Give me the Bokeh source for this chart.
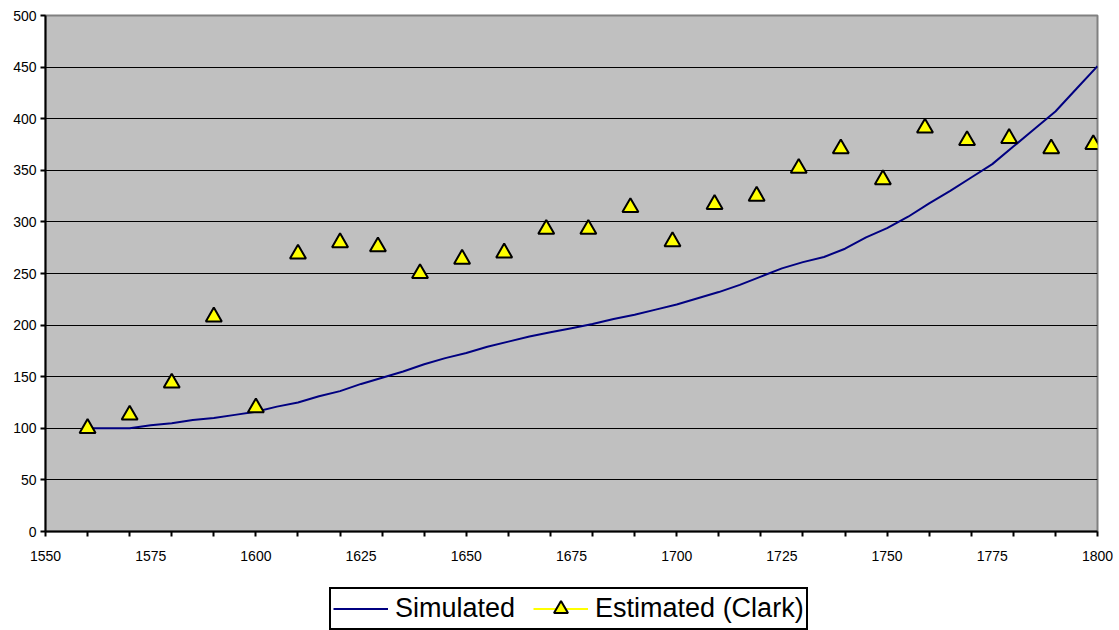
from bokeh.plotting import figure
from bokeh.models import FixedTicker, Legend, LegendItem, SingleIntervalTicker, Range1d
from bokeh.layouts import column
from bokeh.embed import file_html
from bokeh.resources import INLINE

# Simulated series
sim_years = [1560, 1565, 1570, 1575, 1580, 1585, 1590, 1595, 1600, 1605, 1610, 1615,
             1620, 1625, 1630, 1635, 1640, 1645, 1650, 1655, 1660, 1665, 1670, 1675,
             1680, 1685, 1690, 1695, 1700, 1705, 1710, 1715, 1720, 1725, 1730, 1735,
             1740, 1745, 1750, 1755, 1760, 1765, 1770, 1775, 1780, 1785, 1790, 1795, 1800]
sim_values = [100, 100, 100, 103, 105, 108, 110, 113, 116, 121, 125, 131,
              136, 143, 149, 155, 162, 168, 173, 179, 184, 189, 193, 197,
              201, 206, 210, 215, 220, 226, 232, 239, 247, 255, 261, 266,
              274, 285, 294, 305, 318, 330, 343, 356, 373, 390, 407, 429, 451]

# Estimated (Clark)
est_years = [1560, 1570, 1580, 1590, 1600, 1610, 1620, 1629, 1639, 1649, 1659, 1669, 1679,
             1689, 1699, 1709, 1719, 1729, 1739, 1749, 1759, 1769, 1779, 1789, 1799]
est_values = [100, 113, 144, 208, 120, 269, 280, 276, 250, 264, 270, 293, 293,
              314, 281, 317, 325, 352, 371, 341, 391, 379, 381, 371, 375]

x_labels = [1550, 1575, 1600, 1625, 1650, 1675, 1700, 1725, 1750, 1775, 1800]
x_minor = list(range(1550, 1801, 10))

SIM_COLOR = "#000080"
EST_FILL = "#FFFF00"

p = figure(width=1119, height=575, output_backend="svg", toolbar_location=None,
           x_range=(1550, 1800), y_range=(0, 500),
           min_border_left=45, min_border_right=22, min_border_top=15, min_border_bottom=44)
p.border_fill_color = "white"
p.background_fill_color = "#C0C0C0"
p.outline_line_color = "#808080"
p.outline_line_width = 2

p.xgrid.grid_line_color = None
p.ygrid.grid_line_color = "black"
p.ygrid.grid_line_width = 1
p.ygrid.ticker = SingleIntervalTicker(interval=50)

p.yaxis.ticker = SingleIntervalTicker(interval=50)
p.xaxis.ticker = FixedTicker(ticks=x_labels, minor_ticks=x_minor)

for ax in (p.xaxis, p.yaxis):
    ax.axis_line_color = "black"
    ax.axis_line_width = 2
    ax.major_label_text_font = "Liberation Sans"
    ax.major_label_text_font_size = "14px"
    ax.major_label_text_color = "black"

p.yaxis.major_tick_out = 5
p.yaxis.major_tick_in = 0
p.yaxis.major_tick_line_color = "black"
p.yaxis.major_tick_line_width = 2
p.yaxis.minor_tick_line_color = None
p.yaxis.major_label_standoff = 4

p.xaxis.major_tick_out = 0
p.xaxis.major_tick_in = 0
p.xaxis.minor_tick_out = 5
p.xaxis.minor_tick_in = 0
p.xaxis.minor_tick_line_color = "black"
p.xaxis.minor_tick_line_width = 2
p.xaxis.major_label_standoff = 14

p.line(sim_years, sim_values, line_color=SIM_COLOR, line_width=2)
p.scatter(est_years, est_values, marker="triangle", size=16,
          fill_color=EST_FILL, line_color="black", line_width=2)

# Legend strip below the chart (proxy glyphs placed outside the visible range)
q = figure(width=1119, height=55, output_backend="svg", toolbar_location=None,
           x_range=Range1d(0, 1), y_range=Range1d(0, 1),
           min_border_left=0, min_border_right=0, min_border_top=0, min_border_bottom=0)
q.axis.visible = False
q.grid.visible = False
q.outline_line_color = None
q.background_fill_color = "white"
q.border_fill_color = "white"

proxy_x = [-5, -4]
proxy_y = [-5, -4]
l_sim = q.line(x=proxy_x, y=proxy_y, line_color=SIM_COLOR, line_width=2)
l_est_line = q.line(x=proxy_x, y=proxy_y, line_color=EST_FILL, line_width=2)
l_est_pt = q.scatter(x=proxy_x, y=proxy_y, marker="triangle", size=14,
                     fill_color=EST_FILL, line_color="black", line_width=2)

legend = Legend(items=[LegendItem(label="Simulated", renderers=[l_sim]),
                       LegendItem(label="Estimated (Clark)", renderers=[l_est_line, l_est_pt])],
                orientation="horizontal", location=(284, 0),
                label_text_font="Liberation Sans", label_text_font_size="27px",
                label_text_color="black", label_height=26,
                glyph_width=55, glyph_height=35, label_standoff=7, spacing=18,
                padding=2, margin=0,
                border_line_color="black", border_line_width=2, border_line_alpha=1,
                background_fill_color="white", background_fill_alpha=1)
q.add_layout(legend, "center")

layout = column(p, q, spacing=0)
open("out.html", "w").write(file_html(layout, INLINE))
